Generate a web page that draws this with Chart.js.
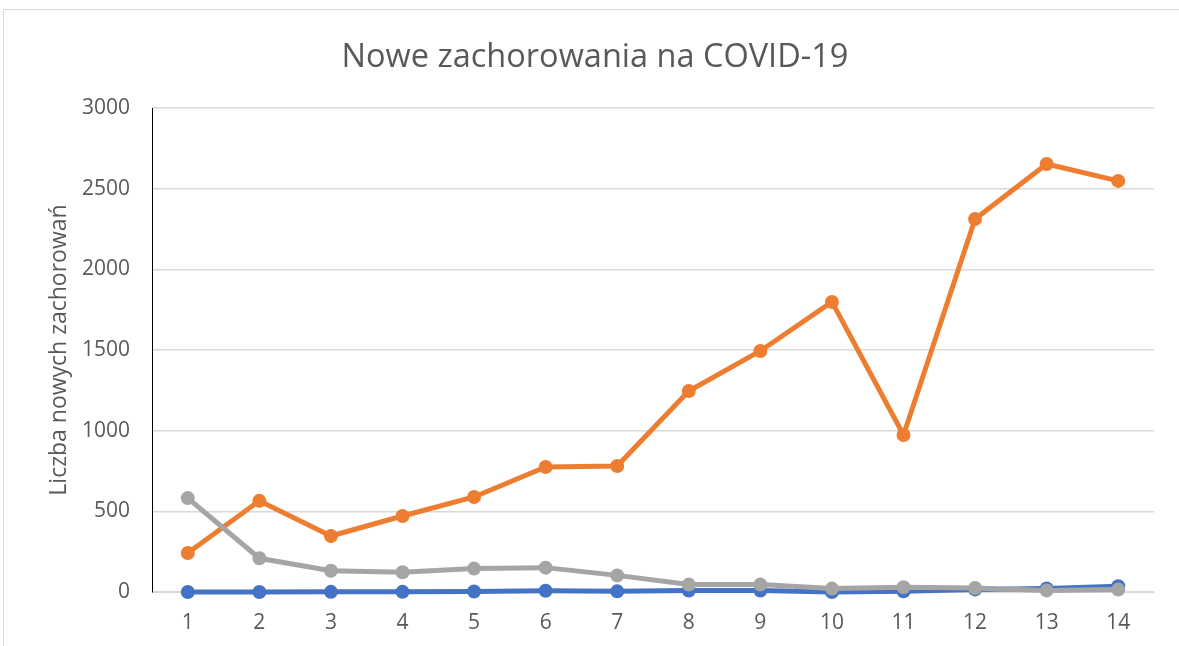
<!DOCTYPE html>
<html>
<head>
<meta charset="utf-8">
<script src="https://cdn.jsdelivr.net/npm/chart.js@4"></script>
<style>
  html, body { margin: 0; padding: 0; background: #fff; overflow: hidden; }
  #frame { position: absolute; left: 3px; top: 9px; width: 1300px; height: 700px; border: 1px solid #d9d9d9; }
  #wrap { position: absolute; left: 0; top: 0; width: 1179px; height: 646px; }
</style>
</head>
<body>
<div id="frame"></div>
<div id="wrap"><canvas id="covidChart" width="1179" height="646"></canvas></div>
<script>
const days = ['1', '2', '3', '4', '5', '6', '7', '8', '9', '10', '11', '12', '13', '14'];
const blueSeries = [0, 0, 1, 1, 3, 8, 4, 9, 9, 0, 4, 16, 22, 36];
const orangeSeries = [242, 565, 347, 471, 589, 775, 781, 1246, 1494, 1798, 973, 2312, 2653, 2548];
const graySeries = [582, 209, 132, 122, 145, 151, 103, 46, 46, 21, 29, 25, 10, 15];

const txt = '#595959';
const font = 'Open Sans';

function series(data, color, order) {
  return {
    data: data,
    borderColor: color,
    backgroundColor: color,
    borderWidth: 5,
    pointRadius: 7,
    pointHoverRadius: 7,
    pointBorderWidth: 0,
    tension: 0,
    clip: false,
    order: order
  };
}

const ctx = document.getElementById('covidChart').getContext('2d');
const covidChart = new Chart(ctx, {
  type: 'line',
  data: {
    labels: days,
    datasets: [
      series(blueSeries, '#4472C4', 2),
      series(orangeSeries, '#ED7D31', 1),
      series(graySeries, '#A5A5A5', 0)
    ]
  },
  options: {
    responsive: false,
    animation: false,
    layout: { autoPadding: false, padding: { left: 36, right: 25, top: 0, bottom: 0 } },
    plugins: {
      legend: { display: false },
      tooltip: { enabled: false },
      title: {
        display: true,
        text: 'Nowe zachorowania na COVID-19',
        color: txt,
        font: { family: font, size: 32.5, weight: 'normal' },
        padding: { top: 38, bottom: 31 }
      }
    },
    scales: {
      x: {
        offset: true,
        grid: { display: false },
        border: { display: true, color: '#d9d9d9' },
        ticks: { color: txt, font: { family: font, size: 21 }, padding: 10 },
        afterFit: function (scale) { scale.height = 54; }
      },
      y: {
        min: 0,
        max: 3000,
        ticks: {
          stepSize: 500,
          color: txt,
          font: { family: font, size: 21 },
          padding: 22,
          callback: function (v) { return String(v); }
        },
        grid: { color: '#d9d9d9', lineWidth: 1.5, drawTicks: false },
        border: { display: true, color: '#000000', width: 1 },
        title: {
          display: true,
          text: 'Liczba nowych zachorowań',
          color: txt,
          font: { family: font, size: 23, weight: 'normal' },
          padding: { top: 10, bottom: 0 }
        },
        afterFit: function (scale) { scale.width = 116; }
      }
    }
  }
});
</script>
</body>
</html>
